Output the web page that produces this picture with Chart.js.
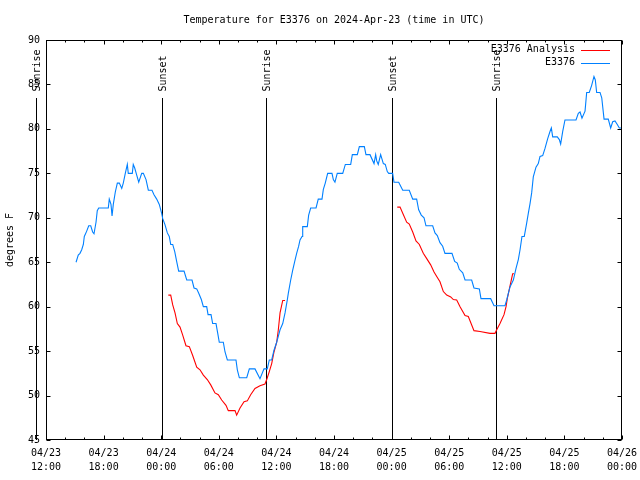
<!DOCTYPE html>
<html>
<head>
<meta charset="utf-8">
<title>Temperature for E3376</title>
<script src="https://cdn.jsdelivr.net/npm/chart.js@4.4.0/dist/chart.umd.min.js"></script>
<style>
  html, body { margin: 0; padding: 0; background: #fff; }
  canvas { display: block; }
</style>
</head>
<body>
<canvas id="chart" width="640" height="480"></canvas>
<script>
// x values are hours since 04/23 12:00 UTC
const stationHours = [
  3.13, 3.36, 3.54, 3.72, 3.89, 3.99, 4.24, 4.45, 4.66, 4.86, 5.0, 5.21, 5.34, 5.49, 6.49, 6.59, 6.77, 6.88, 7.01, 7.22,
  7.43, 7.64, 7.89, 8.05, 8.26, 8.47, 8.57, 8.99, 9.09, 9.24, 9.45, 9.66, 9.97, 10.14, 10.42, 10.66, 11.04, 11.25, 11.53, 11.8,
  12.05, 12.16, 12.4, 12.64, 12.84, 12.99, 13.2, 13.41, 13.61, 13.82, 14.38, 14.66, 15.21, 15.42, 15.7, 15.91, 16.18, 16.39, 16.74, 16.88,
  17.19, 17.36, 17.71, 17.89, 18.05, 18.47, 18.65, 18.89, 19.79, 19.93, 20.14, 20.91, 21.18, 21.77, 22.29, 22.71, 23.05, 23.26, 23.51, 23.75,
  24.03, 24.38, 24.66, 24.9, 25.14, 25.24, 25.49, 25.7, 25.91, 26.11, 26.32, 26.46, 26.67, 26.74, 27.22, 27.36, 27.57, 28.13, 28.36, 28.75,
  28.89, 29.09, 29.34, 29.79, 29.93, 30.1, 30.34, 30.91, 31.18, 31.74, 31.91, 32.43, 32.64, 33.16, 33.33, 33.75, 34.17, 34.34, 34.45, 34.61,
  34.86, 35.14, 35.34, 35.55, 35.7, 36.11, 36.25, 36.74, 37.16, 37.84, 38.2, 38.61, 38.82, 39.09, 39.38, 39.58, 40.28, 40.52, 40.76, 41.04,
  41.32, 41.56, 42.29, 42.57, 42.84, 43.05, 43.41, 43.65, 44.34, 44.58, 45.14, 45.31, 46.32, 46.67, 47.81, 47.99, 48.16, 48.33, 48.68, 48.96,
  49.2, 49.38, 49.58, 49.82, 50.07, 50.24, 50.42, 50.59, 50.76, 51.04, 51.28, 51.46, 51.74, 51.98, 52.26, 52.5, 52.64, 52.78, 53.26, 53.47,
  53.61, 53.82, 54.06, 55.21, 55.45, 55.63, 55.83, 56.15, 56.32, 56.59, 56.84, 57.08, 57.22, 57.36, 57.71, 57.89, 58.13, 58.57, 58.82, 59.03,
  59.27, 59.51, 59.72, 59.97
];
const stationTemps = [
  65.0, 65.8, 66.0, 66.4, 67.0, 67.9, 68.5, 69.1, 69.1, 68.4, 68.2, 69.5, 70.8, 71.1, 71.1, 72.1, 71.5, 70.2, 71.5, 72.9,
  73.9, 73.9, 73.3, 73.9, 75.0, 76.0, 75.0, 75.0, 76.0, 75.6, 74.8, 74.0, 75.0, 75.0, 74.3, 73.1, 73.1, 72.6, 72.1, 71.5,
  70.5, 69.9, 69.2, 68.3, 67.9, 67.0, 67.0, 66.2, 65.1, 64.0, 64.0, 63.0, 63.0, 62.1, 62.0, 61.5, 60.8, 60.0, 60.0, 59.1,
  59.1, 58.1, 58.1, 57.0, 56.0, 56.0, 54.9, 54.0, 54.0, 52.9, 52.0, 52.0, 53.0, 53.0, 51.9, 53.0, 53.0, 54.0, 54.0, 55.1,
  56.0, 57.4, 58.1, 59.3, 60.8, 61.5, 63.0, 64.1, 65.1, 66.0, 66.8, 67.5, 67.9, 69.0, 69.0, 70.3, 71.1, 71.1, 72.1, 72.1,
  73.2, 73.9, 75.0, 75.0, 74.3, 74.0, 75.0, 75.0, 76.0, 76.0, 77.1, 77.1, 78.0, 78.0, 77.1, 77.1, 76.1, 77.1, 76.4, 76.0,
  77.1, 76.1, 76.0, 75.2, 75.0, 75.0, 74.0, 74.0, 73.1, 73.1, 72.1, 72.1, 70.9, 70.3, 70.0, 69.1, 69.1, 68.3, 68.0, 67.2,
  66.8, 66.0, 66.0, 65.1, 64.9, 64.2, 63.8, 63.0, 63.0, 62.1, 62.0, 60.9, 60.9, 60.1, 60.1, 60.75, 61.5, 62.2, 63.0, 64.3,
  65.3, 66.4, 67.9, 67.9, 69.4, 70.5, 71.6, 72.8, 74.6, 75.7, 76.1, 76.9, 77.0, 77.8, 78.9, 79.7, 80.1, 79.1, 79.1, 78.8,
  78.3, 79.7, 81.0, 81.0, 81.75, 81.9, 81.2, 82.0, 84.1, 84.1, 84.9, 85.9, 85.5, 84.1, 84.1, 83.5, 81.1, 81.1, 80.1, 80.8,
  80.9, 80.5, 80.1, 80.1
];

const analysisHours = [
  12.74, 12.99, 13.2, 13.44, 13.68, 13.96, 14.24, 14.58, 14.93, 15.28, 15.7, 16.04, 16.39, 16.8, 17.16, 17.6, 17.95, 18.3, 18.75, 18.99,
  19.69, 19.86, 20.21, 20.63, 20.97, 21.32, 21.77, 22.29, 22.81, 22.99, 23.26, 23.51, 23.75, 24.03, 24.2, 24.38, 24.66, 24.9,
  25.0,
  36.59, 36.88, 37.16, 37.57, 37.84, 38.2, 38.54, 38.89, 39.3, 39.66, 40.07, 40.42, 40.7, 41.04, 41.39, 41.74, 42.16, 42.43, 42.78, 43.13,
  43.65, 43.99, 44.58, 45.21, 46.25, 46.77, 46.95, 47.29, 47.71, 47.92, 48.05, 48.33, 48.61, 48.75
];
const analysisTemps = [
  61.3, 61.3, 60.2, 59.3, 58.1, 57.7, 56.8, 55.6, 55.5, 54.5, 53.2, 52.9, 52.3, 51.8, 51.2, 50.3, 50.1, 49.5, 48.9, 48.3,
  48.3, 47.8, 48.6, 49.3, 49.4, 50.1, 50.8, 51.1, 51.3, 51.8, 52.7, 53.6, 54.9, 56.0, 57.4, 59.3, 60.7, 60.7,
  null,
  71.2, 71.2, 70.5, 69.5, 69.3, 68.4, 67.4, 67.0, 66.0, 65.4, 64.7, 63.9, 63.4, 62.8, 61.7, 61.3, 61.1, 60.8, 60.75, 60.0,
  59.0, 58.9, 57.3, 57.2, 57.0, 57.0, 57.4, 58.1, 59.1, 60.0, 60.9, 62.3, 63.7, 63.7
];

const xDayLabels = ["04/23", "04/23", "04/24", "04/24", "04/24", "04/24", "04/25", "04/25", "04/25", "04/25", "04/26"];
const xTimeLabels = ["12:00", "18:00", "00:00", "06:00", "12:00", "18:00", "00:00", "06:00", "12:00", "18:00", "00:00"];

const sunriseHours = [-1.03, 22.95, 46.92];
const sunsetHours = [12.1, 36.05];

const FONT_FAMILY = '"DejaVu Sans Mono", "Liberation Mono", monospace';
const FONT = '10px ' + FONT_FAMILY;
const RED = '#ff0000';
const BLUE = '#0080ff';

function toPoints(xs, ys) {
  return xs.map((x, i) => ({ x: x, y: ys[i] }));
}

const gnuplotFrame = {
  id: 'gnuplotFrame',
  beforeDraw(chart) {
    const c = chart.ctx;
    c.save();
    c.fillStyle = '#fff';
    c.fillRect(0, 0, chart.width, chart.height);
    c.restore();
  },
  beforeDatasetsDraw(chart) {
    const c = chart.ctx;
    const xs = chart.scales.x, ys = chart.scales.y;
    const lineTop = Math.round(ys.getPixelForValue(83.5));
    const labelBase = ys.getPixelForValue(84.2);
    const events = sunriseHours.map(h => [h, 'Sunrise']).concat(sunsetHours.map(h => [h, 'Sunset']));
    c.save();
    c.strokeStyle = '#000';
    c.fillStyle = '#000';
    c.lineWidth = 1;
    c.font = FONT;
    events.forEach(([h, name]) => {
      const px = Math.round(xs.getPixelForValue(h)) + 0.5;
      c.beginPath();
      c.moveTo(px, lineTop);
      c.lineTo(px, chart.chartArea.bottom);
      c.stroke();
      c.save();
      c.translate(px + 1, labelBase);
      c.rotate(-Math.PI / 2);
      c.textAlign = 'left';
      c.textBaseline = 'middle';
      c.fillText(name, 0, 0);
      c.restore();
    });
    c.restore();
  },
  afterDatasetsDraw(chart) {
    const c = chart.ctx;
    const a = chart.chartArea;
    const xs = chart.scales.x, ys = chart.scales.y;
    const L = Math.round(a.left) + 0.5, R = Math.round(a.right) - 0.5;
    const T = Math.round(a.top) + 0.5, B = Math.round(a.bottom) - 0.5;
    c.save();
    c.strokeStyle = '#000';
    c.lineWidth = 1;
    c.strokeRect(L, T, R - L, B - T);
    c.beginPath();
    for (let v = 45; v <= 90; v += 5) {
      const py = Math.round(ys.getPixelForValue(v)) + 0.5;
      c.moveTo(L, py); c.lineTo(L + 4, py);
      c.moveTo(R, py); c.lineTo(R - 4, py);
    }
    for (let h = 0; h <= 60; h += 2) {
      const px = Math.round(xs.getPixelForValue(h)) + 0.5;
      const len = h % 6 === 0 ? 4 : 2;
      c.moveTo(px, B); c.lineTo(px, B - len);
      c.moveTo(px, T); c.lineTo(px, T + len);
    }
    c.stroke();

    c.fillStyle = '#000';
    c.font = FONT;
    c.textAlign = 'center';
    c.textBaseline = 'middle';
    c.fillText('Temperature for E3376 on 2024-Apr-23 (time in UTC)', (a.left + a.right) / 2, 20);

    c.save();
    c.translate(10, (a.top + a.bottom) / 2);
    c.rotate(-Math.PI / 2);
    c.fillText('degrees F', 0, 0);
    c.restore();

    c.textAlign = 'right';
    chart.data.datasets.forEach((ds, i) => {
      const y = a.top + 9.5 + i * 13;
      c.fillStyle = '#000';
      c.fillText(ds.label, a.right - 47, y);
      c.strokeStyle = ds.borderColor;
      c.beginPath();
      c.moveTo(a.right - 41, Math.round(y) + 0.5);
      c.lineTo(a.right - 12, Math.round(y) + 0.5);
      c.stroke();
    });
    c.restore();
  }
};

const ctx = document.getElementById('chart');
new Chart(ctx, {
  type: 'line',
  data: {
    datasets: [
      {
        label: 'E3376 Analysis',
        data: toPoints(analysisHours, analysisTemps),
        borderColor: RED,
        borderWidth: 1.1,
        pointRadius: 0,
        tension: 0,
        spanGaps: false,
        order: 1
      },
      {
        label: 'E3376',
        data: toPoints(stationHours, stationTemps),
        borderColor: BLUE,
        borderWidth: 1.1,
        pointRadius: 0,
        tension: 0,
        order: 0
      }
    ]
  },
  options: {
    responsive: false,
    animation: false,
    devicePixelRatio: 1,
    layout: { padding: { top: 40, right: 18, left: 0, bottom: 0 } },
    plugins: {
      legend: { display: false },
      title: { display: false },
      tooltip: { enabled: false }
    },
    scales: {
      x: {
        type: 'linear',
        min: 0,
        max: 60,
        grid: { display: false, drawTicks: false },
        border: { display: false },
        ticks: {
          stepSize: 2,
          autoSkip: false,
          maxRotation: 0,
          padding: 6,
          color: '#000',
          font: { family: FONT_FAMILY, size: 10, lineHeight: 1.4 },
          callback: v => (v % 6 === 0 ? [xDayLabels[v / 6], xTimeLabels[v / 6]] : '')
        },
        afterFit: s => { s.height = 40; s.paddingLeft = 0; s.paddingRight = 0; }
      },
      y: {
        min: 45,
        max: 90,
        grid: { display: false, drawTicks: false },
        border: { display: false },
        ticks: {
          stepSize: 5,
          padding: 6,
          color: '#000',
          font: { family: FONT_FAMILY, size: 10 }
        },
        afterFit: s => { s.width = 46; s.paddingTop = 0; s.paddingBottom = 0; }
      }
    }
  },
  plugins: [gnuplotFrame]
});
</script>
</body>
</html>
